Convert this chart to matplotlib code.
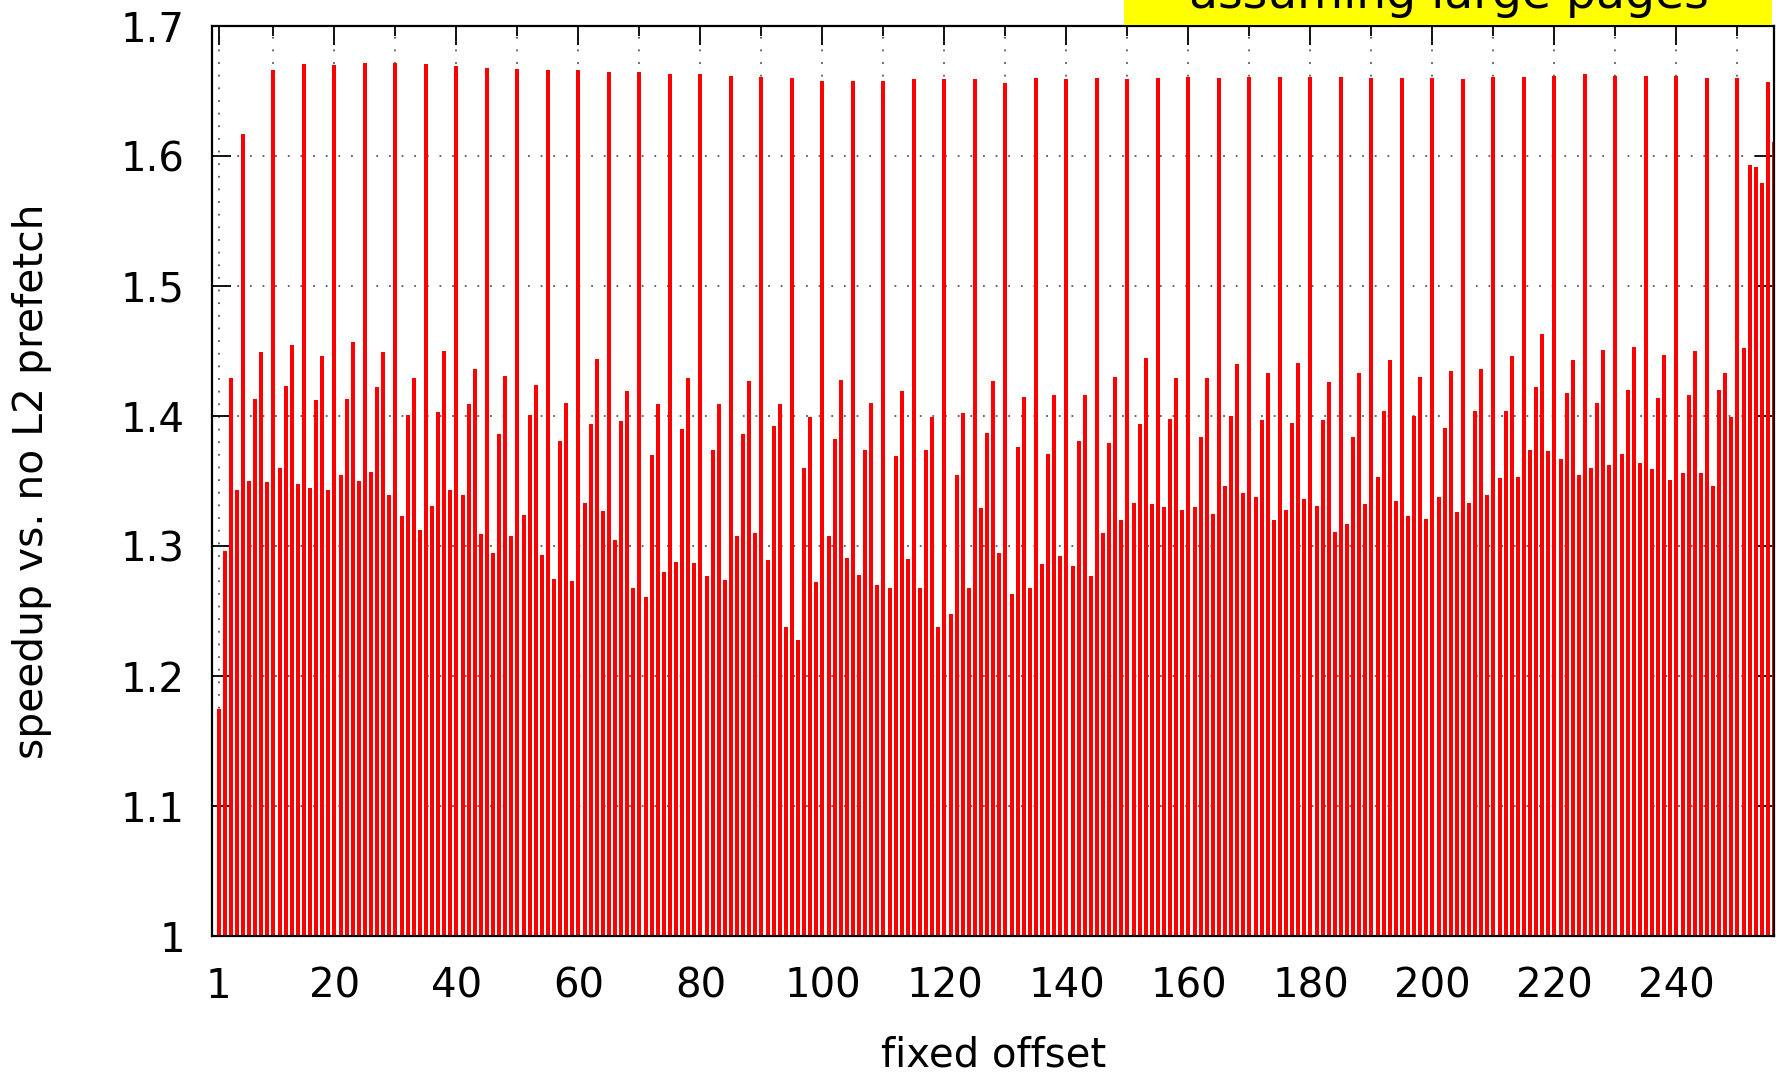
import numpy as np
import matplotlib
matplotlib.use("Agg")
import matplotlib.pyplot as plt
from matplotlib.patches import Rectangle

# fixed prefetch offset (1..256) and speedup
offsets = list(range(1, 257))
speedup = [
    1.175, 1.296, 1.429, 1.343, 1.617, 1.350, 1.413, 1.449, 1.349, 1.666,
    1.360, 1.423, 1.455, 1.348, 1.671, 1.345, 1.412, 1.446, 1.343, 1.670,
    1.355, 1.413, 1.457, 1.350, 1.672, 1.357, 1.422, 1.449, 1.339, 1.672,
    1.323, 1.401, 1.429, 1.312, 1.671, 1.331, 1.403, 1.450, 1.343, 1.669,
    1.339, 1.409, 1.436, 1.309, 1.668, 1.295, 1.386, 1.431, 1.308, 1.667,
    1.324, 1.401, 1.424, 1.293, 1.666, 1.275, 1.381, 1.410, 1.273, 1.666,
    1.333, 1.394, 1.444, 1.327, 1.665, 1.305, 1.396, 1.419, 1.268, 1.665,
    1.261, 1.370, 1.409, 1.280, 1.663, 1.288, 1.390, 1.429, 1.287, 1.663,
    1.277, 1.374, 1.409, 1.274, 1.662, 1.308, 1.386, 1.427, 1.310, 1.661,
    1.289, 1.392, 1.409, 1.238, 1.660, 1.228, 1.360, 1.399, 1.272, 1.658,
    1.308, 1.382, 1.428, 1.291, 1.658, 1.278, 1.374, 1.410, 1.270, 1.658,
    1.268, 1.369, 1.419, 1.290, 1.659, 1.268, 1.374, 1.399, 1.238, 1.659,
    1.248, 1.355, 1.402, 1.268, 1.659, 1.329, 1.387, 1.427, 1.295, 1.656,
    1.263, 1.376, 1.415, 1.268, 1.660, 1.286, 1.371, 1.416, 1.292, 1.659,
    1.285, 1.381, 1.416, 1.277, 1.660, 1.310, 1.379, 1.430, 1.320, 1.659,
    1.333, 1.394, 1.445, 1.332, 1.660, 1.330, 1.398, 1.429, 1.328, 1.661,
    1.330, 1.384, 1.429, 1.325, 1.660, 1.346, 1.400, 1.440, 1.341, 1.661,
    1.338, 1.397, 1.433, 1.320, 1.661, 1.328, 1.395, 1.441, 1.336, 1.661,
    1.331, 1.397, 1.426, 1.311, 1.661, 1.317, 1.384, 1.433, 1.332, 1.660,
    1.353, 1.404, 1.443, 1.335, 1.660, 1.323, 1.400, 1.430, 1.321, 1.660,
    1.338, 1.391, 1.435, 1.326, 1.659, 1.333, 1.404, 1.436, 1.339, 1.661,
    1.352, 1.404, 1.446, 1.353, 1.661, 1.374, 1.422, 1.463, 1.373, 1.662,
    1.367, 1.418, 1.443, 1.355, 1.663, 1.360, 1.410, 1.451, 1.362, 1.662,
    1.371, 1.420, 1.453, 1.364, 1.662, 1.359, 1.414, 1.447, 1.351, 1.662,
    1.356, 1.416, 1.450, 1.356, 1.660, 1.346, 1.420, 1.433, 1.399, 1.660,
    1.452, 1.593, 1.592, 1.579, 1.657, 1.611,
]
xtick_pos = [1, 20, 40, 60, 80, 100, 120, 140, 160, 180, 200, 220, 240]
xminor_pos = [10, 30, 50, 70, 90, 110, 130, 150, 170, 190, 210, 230, 250]
ytick_pos = [1.0, 1.1, 1.2, 1.3, 1.4, 1.5, 1.6, 1.7]
ytick_lab = ["1", "1.1", "1.2", "1.3", "1.4", "1.5", "1.6", "1.7"]

FS = 29
plt.rcParams["font.family"] = ["DejaVu Sans"]

fig = plt.figure(figsize=(17.81, 10.75), dpi=100, facecolor="white")
ax = fig.add_axes([0.1193, 0.1293, 0.9961 - 0.1193, 0.9757 - 0.1293])

ax.bar(offsets, speedup, width=0.65, bottom=0, color="#ff0000", zorder=3)

ax.set_xlim(0, 256)
ax.set_ylim(1.0, 1.7)
ax.set_xticks(xtick_pos)
ax.set_xticks(xminor_pos, minor=True)
ax.set_yticks(ytick_pos)
ax.set_yticklabels(ytick_lab)

ax.tick_params(axis="both", which="both", direction="in", top=True, right=True,
               width=1.3, color="black", labelsize=FS)
ax.tick_params(axis="both", which="major", length=14)
ax.tick_params(axis="x", which="minor", length=7)
ax.tick_params(axis="x", which="major", pad=22)
ax.tick_params(axis="y", which="major", pad=20)

grid_kw = dict(color="0.35", linestyle=(0, (1, 6)), linewidth=1.3, zorder=0)
ax.grid(True, axis="y", which="major", **grid_kw)
ax.grid(True, axis="x", which="both", **grid_kw)
ax.set_axisbelow(True)

for s in ax.spines.values():
    s.set_linewidth(1.6)
    s.set_zorder(5)

fig.text(0.018, 0.5525, "speedup vs. no L2 prefetch", rotation=90,
         ha="center", va="center", fontsize=29.3)
fig.text(0.5577, 0.008, "fixed offset", ha="center", va="baseline", fontsize=FS)

# yellow label box, cut off by the top edge
fig.patches.append(Rectangle((0.6312, 0.9767), 0.3638, 0.1, transform=fig.transFigure,
                             facecolor="#ffff00", edgecolor="none", zorder=1))
fig.text(0.8137, 0.9926, "assuming large pages", ha="center", va="baseline",
         fontsize=34, zorder=2)

fig.savefig("out.png", dpi=100)
